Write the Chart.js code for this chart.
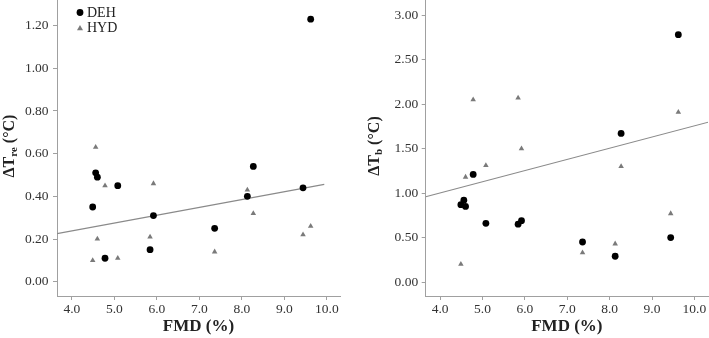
<!DOCTYPE html>
<html>
<head>
<meta charset="utf-8">
<script src="https://cdn.jsdelivr.net/npm/chart.js@4.4.1/dist/chart.umd.min.js"></script>
<style>
  html, body { margin:0; padding:0; background:#fff; }
  .box { position:absolute; top:0; height:338px; }
</style>
</head>
<body>
<div class="box" style="left:0;width:350px;"><canvas id="c1"></canvas></div>
<div class="box" style="left:355px;width:354px;"><canvas id="c2"></canvas></div>
<script>
// ---- data ----
const fmd   = [4.49, 4.56, 4.60, 4.78, 5.08, 5.84, 5.92, 7.36, 8.13, 8.27, 9.44, 9.62];
const dehRe = [0.35, 0.51, 0.49, 0.11, 0.45, 0.15, 0.31, 0.25, 0.40, 0.54, 0.44, 1.23];
const hydRe = [0.10, 0.63, 0.20, 0.45, 0.11, 0.21, 0.46, 0.14, 0.43, 0.32, 0.22, 0.26];
const dehB  = [0.87, 0.92, 0.85, 1.21, 0.66, 0.65, 0.69, 0.45, 0.29, 1.67, 0.50, 2.78];
const hydB  = [0.20, null, 1.18, 2.05, 1.31, 2.07, 1.50, 0.33, 0.43, 1.30, 0.77, 1.91];
const fitReX = [3.65, 9.94];
const fitReY = [0.225, 0.456];
const fitBX  = [3.66, 10.35];
const fitBY  = [0.958, 1.80];
const xTicks   = [4, 5, 6, 7, 8, 9, 10];
const yTicksRe = [0, 0.2, 0.4, 0.6, 0.8, 1.0, 1.2];
const yTicksB  = [0, 0.5, 1.0, 1.5, 2.0, 2.5, 3.0];
const seriesNames = ['DEH', 'HYD'];
const xTitle = 'FMD (%)';
const yTitleRe = ['ΔT', 're', ' (°C)'];
const yTitleB  = ['ΔT', 'b', ' (°C)'];

const SERIF = '"Liberation Serif", "DejaVu Serif", serif';
const AXIS = '#a0a0a0';
const TXT = '#333';

function pts(xs, ys) {
  const out = [];
  xs.forEach((x, i) => { if (ys[i] !== null) out.push({x: x, y: ys[i]}); });
  return out;
}

const yTitlePlugin = {
  id: 'ytitle',
  afterDraw(chart, args, opts) {
    const ctx = chart.ctx;
    const parts = opts.parts;
    ctx.save();
    ctx.translate(opts.x, opts.y);
    ctx.rotate(-Math.PI / 2);
    ctx.fillStyle = '#222';
    ctx.textBaseline = 'middle';
    const big = 'bold 16px ' + SERIF, small = 'bold 11px ' + SERIF;
    ctx.font = big; const w0 = ctx.measureText(parts[0]).width;
    ctx.font = small; const w1 = ctx.measureText(parts[1]).width;
    ctx.font = big; const w2 = ctx.measureText(parts[2]).width;
    let x = -(w0 + w1 + w2) / 2;
    ctx.textAlign = 'left';
    ctx.font = big; ctx.fillText(parts[0], x, 0); x += w0;
    ctx.font = small; ctx.fillText(parts[1], x, 4); x += w1;
    ctx.font = big; ctx.fillText(parts[2], x, 0);
    ctx.restore();
  }
};

const legendPlugin = {
  id: 'mylegend',
  afterDraw(chart, args, opts) {
    if (!opts.show) return;
    const ctx = chart.ctx;
    ctx.save();
    ctx.fillStyle = '#000';
    ctx.beginPath(); ctx.arc(80, 12.5, 3.4, 0, Math.PI * 2); ctx.fill();
    ctx.fillStyle = '#7a7a7a';
    ctx.beginPath(); ctx.moveTo(80, 25); ctx.lineTo(83, 30.2); ctx.lineTo(77, 30.2); ctx.closePath(); ctx.fill();
    ctx.fillStyle = '#222';
    ctx.font = '14px ' + SERIF;
    ctx.textBaseline = 'middle';
    ctx.textAlign = 'left';
    ctx.fillText(seriesNames[0], 87, 13);
    ctx.fillText(seriesNames[1], 87, 28.5);
    ctx.restore();
  }
};

function makeChart(id, cfg) {
  return new Chart(document.getElementById(id), {
    type: 'scatter',
    data: {
      datasets: [
        { label: seriesNames[0], data: pts(fmd, cfg.deh), pointStyle: 'circle', pointRadius: 3.4,
          backgroundColor: '#000', borderColor: '#000', borderWidth: 0, order: 1 },
        { label: seriesNames[1], data: pts(fmd, cfg.hyd), pointStyle: 'triangle', pointRadius: 3.2,
          backgroundColor: '#7a7a7a', borderColor: '#7a7a7a', borderWidth: 0, order: 2 },
        { label: 'Fit', type: 'line', data: pts(cfg.fitX, cfg.fitY), showLine: true, pointRadius: 0,
          borderColor: '#8a8a8a', borderWidth: 1.1, fill: false, order: 3 }
      ]
    },
    options: {
      responsive: true,
      maintainAspectRatio: false,
      animation: false,
      events: [],
      layout: { autoPadding: false, padding: { left: 0, right: cfg.padRight, top: 0, bottom: 0 } },
      plugins: {
        legend: { display: false },
        tooltip: { enabled: false },
        ytitle: { parts: cfg.yTitle, x: cfg.titleX, y: 146 },
        mylegend: { show: cfg.legend }
      },
      scales: {
        x: {
          type: 'linear', min: cfg.xMin, max: cfg.xMax,
          afterBuildTicks: s => { s.ticks = xTicks.map(v => ({ value: v })); },
          afterFit: s => { s.height = 42; },
          ticks: { callback: v => Number(v).toFixed(1), color: TXT, font: { family: SERIF, size: 13.5 },
                   padding: 1, maxRotation: 0, autoSkip: false },
          grid: { display: true, drawOnChartArea: false, drawTicks: true, tickLength: 4, tickColor: AXIS },
          border: { display: true, color: AXIS, width: 1 },
          title: { display: true, text: xTitle, color: '#222',
                   font: { family: SERIF, size: 17, weight: 'bold' }, padding: { top: 0, bottom: 1 } }
        },
        y: {
          type: 'linear', min: cfg.yMin, max: cfg.yMax,
          afterBuildTicks: s => { s.ticks = cfg.yTicks.map(v => ({ value: v })); },
          afterFit: s => { s.width = cfg.yWidth; s.paddingTop = 0; s.paddingBottom = 0; },
          ticks: { callback: v => Number(v).toFixed(2), color: TXT, font: { family: SERIF, size: 13.5 },
                   padding: cfg.yPad, autoSkip: false },
          grid: { display: true, drawOnChartArea: false, drawTicks: true, tickLength: 4, tickColor: AXIS },
          border: { display: true, color: AXIS, width: 1 }
        }
      }
    },
    plugins: [yTitlePlugin, legendPlugin]
  });
}

makeChart('c1', {
  deh: dehRe, hyd: hydRe, fitX: fitReX, fitY: fitReY,
  xMin: 3.65, xMax: 10.31, yMin: -0.067, yMax: 1.32, yTicks: yTicksRe,
  yWidth: 57, yPad: 4.5, padRight: 10, yTitle: yTitleRe, titleX: 10, legend: true
});
makeChart('c2', {
  deh: dehB, hyd: hydB, fitX: fitBX, fitY: fitBY,
  xMin: 3.66, xMax: 10.32, yMin: -0.157, yMax: 3.17, yTicks: yTicksB,
  yWidth: 70.7, yPad: 3.5, padRight: 1, yTitle: yTitleB, titleX: 20, legend: false
});
</script>
</body>
</html>
